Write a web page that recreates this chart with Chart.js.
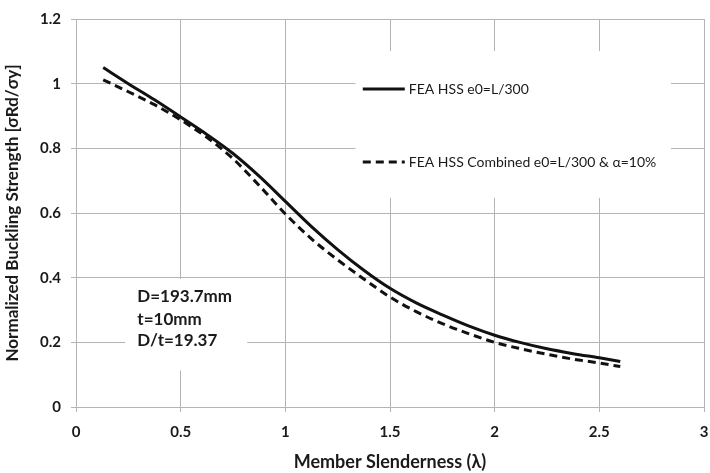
<!DOCTYPE html>
<html>
<head>
<meta charset="utf-8">
<script src="https://cdn.jsdelivr.net/npm/chart.js@4.4.1/dist/chart.umd.min.js"></script>
<style>
  html, body { margin: 0; padding: 0; background: #fff; }
  #wrap { width: 710px; height: 473px; }
</style>
</head>
<body>
<div id="wrap"><canvas id="buckling" width="710" height="473"></canvas></div>
<script>
// Normalized buckling strength vs member slenderness (HSS, D/t = 19.37)

const slenderness = [0.13, 0.25, 0.375, 0.5, 0.625, 0.75, 0.875, 1.0, 1.125, 1.25, 1.375, 1.5,
    1.625, 1.75, 1.875, 2.0, 2.125, 2.25, 2.375, 2.5, 2.6];
const feaHss = [1.05, 1.0, 0.95, 0.897, 0.843, 0.784, 0.714, 0.636, 0.558, 0.487, 0.423, 0.367,
    0.322, 0.285, 0.251, 0.222, 0.199, 0.18, 0.165, 0.152, 0.141];
const feaCombined = [1.012, 0.975, 0.935, 0.888, 0.834, 0.768, 0.685, 0.597, 0.52, 0.455, 0.396, 0.34,
    0.295, 0.258, 0.227, 0.2, 0.18, 0.163, 0.148, 0.136, 0.125];

const seriesLabels = ['FEA HSS e0=L/300', 'FEA HSS Combined e0=L/300 & \u03b1=10%'];
const noteLines = ['D=193.7mm', 't=10mm', 'D/t=19.37'];

const FONT = 'Lato, "Open Sans", sans-serif';
const GRID = '#b4b4b4';
const INK = '#1a1a1a';

function toPoints(xs, ys) {
    return xs.map((x, i) => ({ x: x, y: ys[i] }));
}

// white boxes (legend + note) sit on top of the grid, like the original sheet
const overlayPlugin = {
    id: 'overlay',
    beforeDatasetsDraw(chart) {
        const { ctx, scales } = chart;
        const x = scales.x, y = scales.y;
        ctx.save();
        ctx.fillStyle = '#fff';
        // legend box
        ctx.fillRect(x.getPixelForValue(1.335), y.getPixelForValue(1.101),
            x.getPixelForValue(2.842) - x.getPixelForValue(1.335),
            y.getPixelForValue(0.647) - y.getPixelForValue(1.101));
        // note box
        ctx.fillRect(x.getPixelForValue(0.235), y.getPixelForValue(0.396),
            x.getPixelForValue(0.818) - x.getPixelForValue(0.235),
            y.getPixelForValue(0.113) - y.getPixelForValue(0.396));
        ctx.restore();
    },
    afterDatasetsDraw(chart) {
        const { ctx, scales } = chart;
        const x = scales.x, y = scales.y;
        ctx.save();

        // legend
        const rows = [0.985, 0.758];
        chart.data.datasets.forEach((ds, i) => {
            const py = Math.round(y.getPixelForValue(rows[i]));
            const x0 = x.getPixelForValue(1.37);
            ctx.strokeStyle = ds.borderColor;
            ctx.lineWidth = ds.borderWidth;
            ctx.setLineDash(ds.borderDash || []);
            ctx.beginPath();
            ctx.moveTo(x0, py);
            ctx.lineTo(x0 + 42, py);
            ctx.stroke();
            ctx.setLineDash([]);
            ctx.fillStyle = INK;
            ctx.font = '14px ' + FONT;
            ctx.textBaseline = 'middle';
            ctx.textAlign = 'left';
            ctx.fillText(ds.label, x0 + 46, py);
        });

        // note text
        ctx.font = 'bold 17px ' + FONT;
        ctx.fillStyle = INK;
        ctx.textBaseline = 'middle';
        const nx = x.getPixelForValue(0.293);
        const ny = [0.342, 0.272, 0.205];
        noteLines.forEach((t, i) => ctx.fillText(t, nx, y.getPixelForValue(ny[i])));

        ctx.restore();
    }
};

new Chart(document.getElementById('buckling').getContext('2d'), {
    type: 'line',
    data: {
        datasets: [
            {
                label: seriesLabels[0],
                data: toPoints(slenderness, feaHss),
                borderColor: '#111',
                borderWidth: 3,
                pointRadius: 0,
                cubicInterpolationMode: 'monotone',
                fill: false
            },
            {
                label: seriesLabels[1],
                data: toPoints(slenderness, feaCombined),
                borderColor: '#111',
                borderWidth: 3,
                borderDash: [8, 5],
                pointRadius: 0,
                cubicInterpolationMode: 'monotone',
                fill: false
            }
        ]
    },
    options: {
        responsive: false,
        animation: false,
        layout: { padding: { top: 16, right: 6, left: 0, bottom: 0 } },
        plugins: {
            legend: { display: false },
            tooltip: { enabled: false }
        },
        scales: {
            x: {
                type: 'linear',
                min: 0,
                max: 3,
                grid: { color: GRID, lineWidth: 1, tickLength: 5, drawTicks: true },
                border: { color: GRID },
                ticks: {
                    stepSize: 0.5,
                    padding: 11,
                    color: INK,
                    font: { family: FONT, size: 15, weight: 'bold' },
                    maxRotation: 0,
                    callback: v => String(+v.toFixed(2))
                },
                title: {
                    display: true,
                    text: 'Member Slenderness (\u03bb)',
                    color: INK,
                    font: { family: FONT, size: 18, weight: 'bold' },
                    padding: { top: 10, bottom: 0 }
                },
                afterFit: s => { s.height = 66; s.paddingRight = 0; }
            },
            y: {
                min: 0,
                max: 1.2,
                grid: { color: GRID, lineWidth: 1, tickLength: 5 },
                border: { color: GRID },
                ticks: {
                    stepSize: 0.2,
                    padding: 10,
                    color: INK,
                    font: { family: FONT, size: 15, weight: 'bold' },
                    callback: v => String(+v.toFixed(2))
                },
                title: {
                    display: true,
                    text: 'Normalized Buckling Strength [\u03c3Rd/\u03c3y]',
                    color: INK,
                    font: { family: FONT, size: 17, weight: 'bold' },
                    padding: { top: 2, bottom: 0 }
                },
                afterFit: s => { s.width = 76; }
            }
        }
    },
    plugins: [overlayPlugin]
});
</script>
</body>
</html>
